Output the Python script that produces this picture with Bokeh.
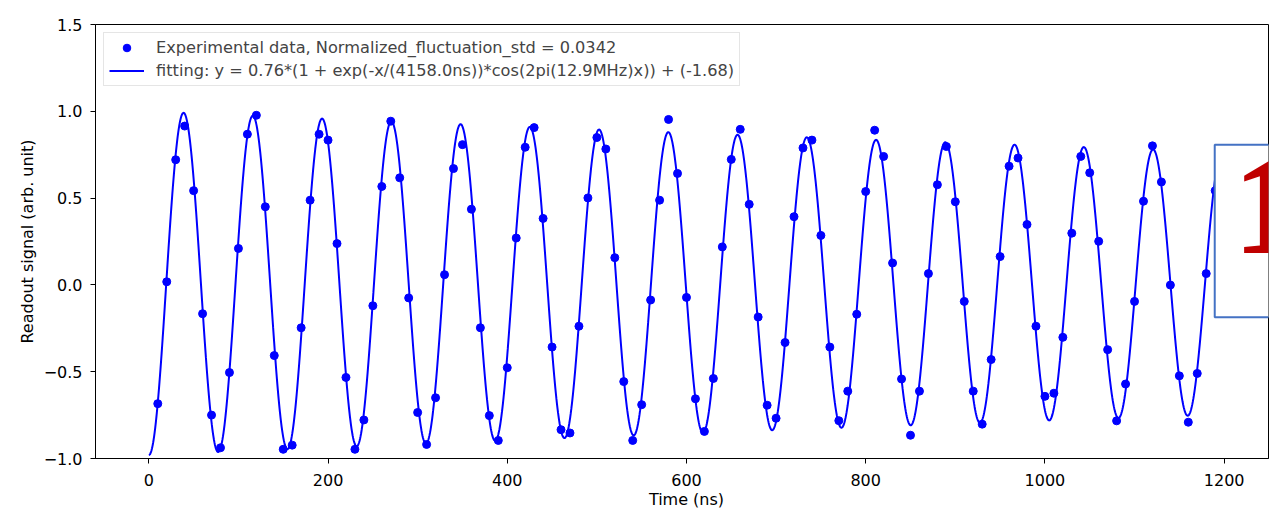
import numpy as np
from bokeh.plotting import figure
from bokeh.models import Range1d, FixedTicker, Legend, LegendItem, Label, BoxAnnotation
from bokeh.embed import file_html
from bokeh.resources import INLINE

# ---------------- data ----------------
time_ns = list(range(10, 1200, 10))
signal = [
    -0.684, 0.018, 0.721, 0.915, 0.543, -0.166, -0.750, -0.938, -0.505, 0.210,
    0.868, 0.977, 0.450, -0.407, -0.947, -0.923, -0.247, 0.488, 0.868, 0.834,
    0.238, -0.533, -0.947, -0.778, -0.120, 0.567, 0.943, 0.617, -0.075, -0.735,
    -0.919, -0.650, 0.059, 0.670, 0.808, 0.436, -0.247, -0.753, -0.896, -0.477,
    0.270, 0.793, 0.906, 0.383, -0.358, -0.834, -0.853, -0.238, 0.501, 0.849,
    0.783, 0.157, -0.557, -0.896, -0.690, -0.087, 0.488, 0.953, 0.642, -0.072,
    -0.656, -0.844, -0.539, 0.219, 0.723, 0.896, 0.464, -0.185, -0.693, -0.768,
    -0.332, 0.393, 0.789, 0.834, 0.285, -0.358, -0.782, -0.612, -0.169, 0.538,
    0.891, 0.740, 0.126, -0.542, -0.866, -0.612, 0.065, 0.577, 0.797, 0.479,
    -0.095, -0.612, -0.802, -0.430, 0.163, 0.684, 0.731, 0.348, -0.238, -0.642,
    -0.624, -0.302, 0.298, 0.740, 0.646, 0.251, -0.373, -0.783, -0.571, -0.095,
    0.482, 0.801, 0.593, -0.001, -0.524, -0.791, -0.510, 0.065, 0.543,
]

# fitted curve parameters
fit_start_ns = 0.0
fit_end_ns = 1190.0
fit_amplitude = 0.99
fit_decay_ns = 4470.0
fit_period_ns = 77.28
fit_peak_ns = 38.8
fit_offset = 0.01

x_ticks = [0, 200, 400, 600, 800, 1000, 1200]
y_ticks = [-1.0, -0.5, 0.0, 0.5, 1.0, 1.5]
y_tick_labels = ["\u22121.0", "\u22120.5", "0.0", "0.5", "1.0", "1.5"]

data_label = "Experimental data, Normalized_fluctuation_std = 0.0342"
fit_label = "fitting: y = 0.76*(1 + exp(-x/(4158.0ns))*cos(2pi(12.9MHz)x)) + (-1.68)"
x_label = "Time (ns)"
y_label = "Readout signal (arb. unit)"
overlay_text = "12.9MHz"

# ---------------- figure ----------------
FONT = "DejaVu Sans"
FS = "16px"
BLUE = "#0000ff"

fit_x = np.linspace(fit_start_ns, fit_end_ns, 2000)
fit_y = fit_amplitude * np.exp(-fit_x / fit_decay_ns) * np.cos(
    2 * np.pi * (fit_x - fit_peak_ns) / fit_period_ns) + fit_offset

p = figure(width=1272, height=511,
           x_range=Range1d(-59.5, 1249.5), y_range=Range1d(-1.0, 1.5),
           output_backend="svg", toolbar_location=None,
           min_border_left=95, min_border_right=4,
           min_border_top=24, min_border_bottom=43)
p.grid.visible = False
p.outline_line_color = "black"
p.outline_line_alpha = 1.0
p.outline_line_width = 1
p.background_fill_color = "white"
p.border_fill_color = "white"

for ax in (p.xaxis, p.yaxis):
    ax.axis_line_color = "black"
    ax.major_tick_line_color = "black"
    ax.major_tick_out = 5
    ax.major_tick_in = 0
    ax.minor_tick_line_color = None
    ax.major_label_text_font = FONT
    ax.major_label_text_font_size = FS
    ax.major_label_text_color = "black"

p.xaxis.ticker = FixedTicker(ticks=x_ticks)
p.yaxis.ticker = FixedTicker(ticks=y_ticks)
p.yaxis.major_label_overrides = dict(zip(y_ticks, y_tick_labels))
# the x-axis title sits just under the middle tick label (the page cuts it)
mid_tick = x_ticks[len(x_ticks) // 2]
p.xaxis.major_label_overrides = {mid_tick: f"{mid_tick}\n{x_label}"}
p.xaxis.major_label_text_line_height = 1.0
p.xaxis.major_label_standoff = 7
p.yaxis.major_label_standoff = 8

p.yaxis.axis_label = y_label
p.yaxis.axis_label_text_font = FONT
p.yaxis.axis_label_text_font_size = FS
p.yaxis.axis_label_text_font_style = "normal"
p.yaxis.axis_label_text_color = "black"
p.yaxis.axis_label_standoff = 4

ln = p.line(fit_x, fit_y, line_color=BLUE, line_width=2)
sc = p.scatter(time_ns, signal, size=8, fill_color=BLUE, line_color=BLUE)

# overlay slide elements on top of the chart
box = BoxAnnotation(left=1189.5, right=1400, top=0.808, bottom=-0.186,
                    fill_color="white", fill_alpha=1.0,
                    line_color="#4472C4", line_alpha=1.0, line_width=2)
p.add_layout(box)
p.add_layout(Label(x=1210, y=0.456, text=overlay_text,
                   text_font="Liberation Sans Narrow",
                   text_font_style="bold", text_font_size="139px",
                   text_color="#C00000", text_baseline="middle"))

legend = Legend(items=[LegendItem(label=data_label, renderers=[sc]),
                       LegendItem(label=fit_label, renderers=[ln])],
                location="top_left")
legend.margin = 8
legend.padding = 5
legend.spacing = 4
legend.label_height = 19
legend.glyph_height = 19
legend.glyph_width = 35
legend.label_standoff = 12
legend.label_text_font = FONT
legend.label_text_font_size = "16.2px"
legend.border_line_color = "#cccccc"
legend.border_line_width = 1
legend.background_fill_color = "white"
legend.background_fill_alpha = 0.8
p.add_layout(legend)

open("out.html", "w").write(file_html(p, INLINE))
